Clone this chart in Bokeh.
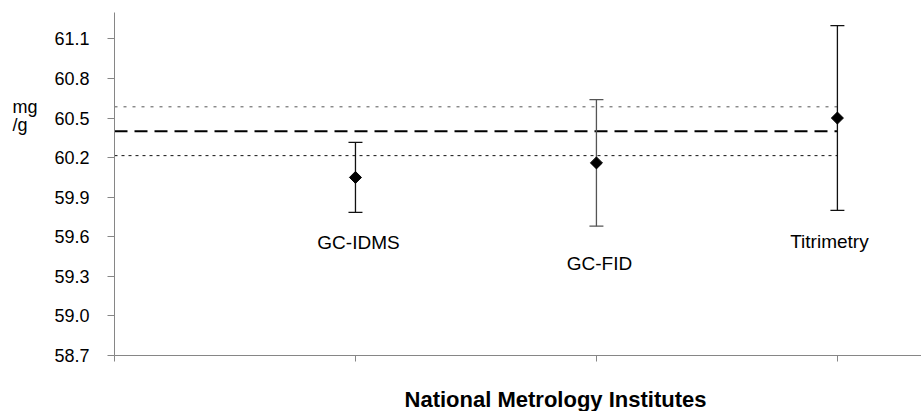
import numpy as np
from bokeh.plotting import figure
from bokeh.layouts import row, column
from bokeh.models import ColumnDataSource, FixedTicker, PrintfTickFormatter, Range1d
from bokeh.core.properties import value
from bokeh.embed import file_html
from bokeh.resources import INLINE

# ---- data ----
categories = ["GC-IDMS", "GC-FID", "Titrimetry"]
cat_x = [1, 2, 3]
values = [60.05, 60.16, 60.50]
uncertainties = [0.265, 0.48, 0.70]
bar_colors = ["#111111", "#555555", "#111111"]
label_y = [59.56, 59.40, 59.565]
label_dx = [3, 3, -8]
ref_value = 60.40
ref_unc = 0.185
y_ticks = [58.7, 59.0, 59.3, 59.6, 59.9, 60.2, 60.5, 60.8, 61.1]
x_ticks = [0, 1, 2, 3]
y_unit = ["mg", "/g"]
y_unit_pos = [60.585, 60.45]
x_title = "National Metrology Institutes"

FONT = "Liberation Sans"
Y0, Y1 = 58.7, 61.3
TOP, BOTTOM = 12, 20
LEFT_W = 48
MAIN_H = 375
TITLE_H = 411 - MAIN_H


def bare(fig):
    fig.outline_line_color = None
    fig.xgrid.grid_line_color = None
    fig.ygrid.grid_line_color = None


# small side panel holding the unit text
side = figure(width=LEFT_W, height=MAIN_H, output_backend="svg", toolbar_location=None,
              x_range=Range1d(0, LEFT_W), y_range=Range1d(Y0, Y1),
              x_axis_type=None, y_axis_type=None,
              min_border_left=0, min_border_right=0, min_border_top=TOP,
              min_border_bottom=BOTTOM)
bare(side)
side.text(x=[12, 12], y=y_unit_pos, text=y_unit, text_font=value(FONT),
          text_font_size="18px", text_align="left", text_baseline="alphabetic",
          text_color="black")

p = figure(width=921 - LEFT_W, height=MAIN_H, output_backend="svg", toolbar_location=None,
           x_range=Range1d(0, 3.349), y_range=Range1d(Y0, Y1),
           min_border_left=114 - LEFT_W, min_border_right=0, min_border_top=TOP,
           min_border_bottom=BOTTOM)
bare(p)
p.background_fill_color = "white"

# axes
for ax in (p.xaxis, p.yaxis):
    ax.axis_line_color = "#868686"
    ax.major_tick_line_color = "#868686"
    ax.minor_tick_line_color = None
    ax.major_tick_in = 0
    ax.major_tick_out = 7
p.yaxis.ticker = FixedTicker(ticks=y_ticks)
p.yaxis.formatter = PrintfTickFormatter(format="%.1f")
p.yaxis.major_label_text_font = FONT
p.yaxis.major_label_text_font_size = "18px"
p.yaxis.major_label_text_color = "black"
p.yaxis.major_label_standoff = 18
p.xaxis.ticker = FixedTicker(ticks=x_ticks)
p.xaxis.major_tick_out = 6
p.xaxis.major_label_overrides = {t: "" for t in x_ticks}
p.xaxis.major_label_text_font_size = "2px"
p.xaxis.major_label_standoff = 0

# reference lines
ref_x = [0, len(categories)]
p.line(ref_x, [ref_value, ref_value], line_color="black", line_width=2, line_dash="13 7")
p.line(ref_x, [ref_value + ref_unc] * 2, line_color="#555555", line_width=1, line_dash="3 6")
p.line(ref_x, [ref_value - ref_unc] * 2, line_color="#111111", line_width=1, line_dash="3 4")

# error bars
cap = 0.029
src = ColumnDataSource(dict(
    x=cat_x, y=values,
    lo=[v - u for v, u in zip(values, uncertainties)],
    hi=[v + u for v, u in zip(values, uncertainties)],
    xl=[x - cap for x in cat_x], xr=[x + cap for x in cat_x],
    color=bar_colors, label=categories, ly=label_y, dx=label_dx,
))
p.segment(x0="x", y0="lo", x1="x", y1="hi", source=src, line_color="color", line_width=1.3)
p.segment(x0="xl", y0="hi", x1="xr", y1="hi", source=src, line_color="color", line_width=1.3)
p.segment(x0="xl", y0="lo", x1="xr", y1="lo", source=src, line_color="color", line_width=1.3)
p.scatter(x="x", y="y", source=src, marker="square", angle=np.pi / 4, size=8.5,
          fill_color="black", line_color="black")

# category labels
p.text(x="x", y="ly", text="label", source=src, x_offset="dx",
       text_font=value(FONT), text_font_size="19px", text_align="center",
       text_baseline="alphabetic", text_color="black")

# bottom strip holding the axis title
bottom = figure(width=921, height=TITLE_H, output_backend="svg", toolbar_location=None,
                x_range=Range1d(0, 921), y_range=Range1d(0, TITLE_H),
                x_axis_type=None, y_axis_type=None,
                min_border_left=0, min_border_right=0, min_border_top=0,
                min_border_bottom=0)
bare(bottom)
bottom.text(x=[555], y=[12], text=[x_title], text_font=value(FONT),
            text_font_size="22px", text_font_style="bold", text_align="center",
            text_baseline="middle", text_color="black")

layout = column(row(side, p, spacing=0), bottom, spacing=0)
open("out.html", "w").write(file_html(layout, INLINE))
